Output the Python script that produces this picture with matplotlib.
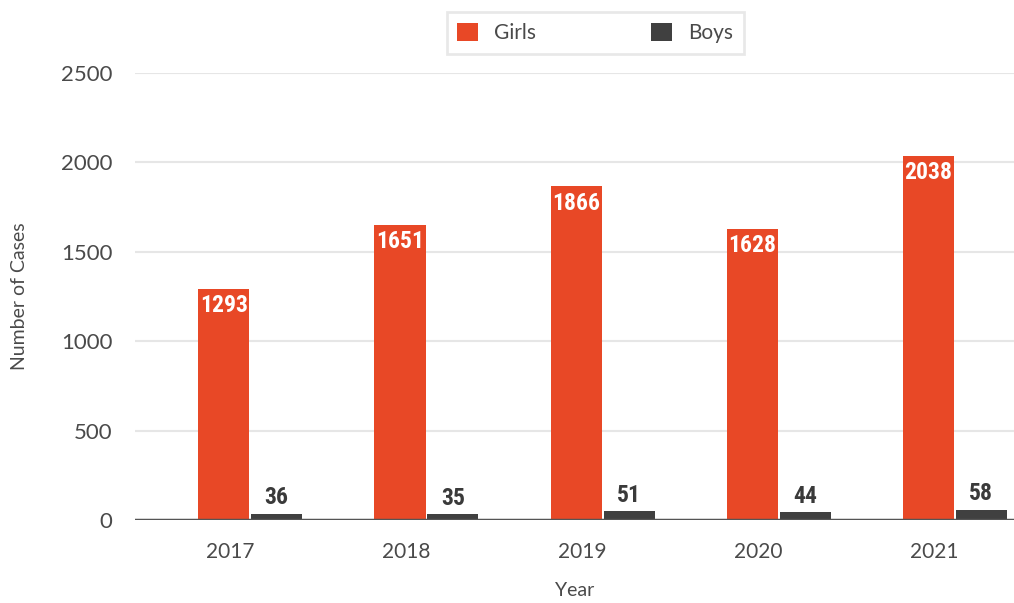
import matplotlib
matplotlib.use('Agg')
import matplotlib.pyplot as plt
from matplotlib import font_manager
import numpy as np

years = ['2017', '2018', '2019', '2020', '2021']
girls = [1293, 1651, 1866, 1628, 2038]
boys = [36, 35, 51, 44, 58]

girl_color = '#E84826'
boy_color = '#404040'
text_color = '#4a4a4a'

# pick a narrow face for the value labels if one is installed
names = {f.name for f in font_manager.fontManager.ttflist}
narrow = [n for n in ['Roboto Condensed', 'Liberation Sans Narrow', 'Open Sans Condensed',
                      'DejaVu Sans Condensed'] if n in names]
label_font = narrow[0] if narrow else 'DejaVu Sans'
label_size = 17 if narrow else 12.5

fig = plt.figure(figsize=(10.14, 6.03), dpi=100)
ax = fig.add_axes([0.133, 0.1376, 0.867, 0.7414])

x = np.arange(len(years))
w = 0.29
b1 = ax.bar(x - 0.035, girls, w, color=girl_color, label='Girls', zorder=3)
b2 = ax.bar(x + 0.265, boys, w, color=boy_color, label='Boys', zorder=3)

# value labels: girls inside top (white), boys above bar
for rect, v in zip(b1, girls):
    ax.annotate(str(v), (rect.get_x() + rect.get_width() / 2, v),
                xytext=(0, -4), textcoords='offset points', ha='center', va='top',
                color='white', fontsize=label_size, fontweight='bold',
                family=label_font, zorder=4)
for rect, v in zip(b2, boys):
    ax.annotate(str(v), (rect.get_x() + rect.get_width() / 2, v),
                xytext=(0, 3), textcoords='offset points', ha='center', va='bottom',
                color='#3a3a3a', fontsize=label_size, fontweight='bold',
                family=label_font, zorder=4)

ax.set_ylim(0, 2500)
ax.set_xlim(-0.54, 4.45)
ax.set_yticks([0, 500, 1000, 1500, 2000, 2500])
ax.set_xticks(x)
ax.set_xticklabels(years)
ax.grid(axis='y', color='#e6e6e6', linewidth=1.5, zorder=0)
ax.axhline(0, color='#555555', linewidth=2.5, zorder=5)

for s in ax.spines.values():
    s.set_visible(False)
ax.tick_params(length=0, labelsize=15, labelcolor=text_color)
ax.tick_params(axis='y', pad=16, labelsize=16)
ax.tick_params(axis='x', pad=16)
for lab in ax.get_xticklabels() + ax.get_yticklabels():
    lab.set_family('Lato')

ax.set_xlabel('Year', fontsize=14, color=text_color, family='Lato', labelpad=14)
ax.set_ylabel('Number of Cases', fontsize=14, color=text_color, family='Lato', labelpad=24)

leg = fig.legend(loc='upper center', bbox_to_anchor=(0.587, 0.997), ncol=2,
                 frameon=True, fancybox=False, edgecolor='#e3e3e3',
                 prop={'family': 'Lato', 'size': 15},
                 handlelength=1.0, handleheight=1.0,
                 columnspacing=5.5, borderpad=0.5, labelcolor=text_color)
leg.get_frame().set_linewidth(2)

fig.savefig('out.png', dpi=100)
